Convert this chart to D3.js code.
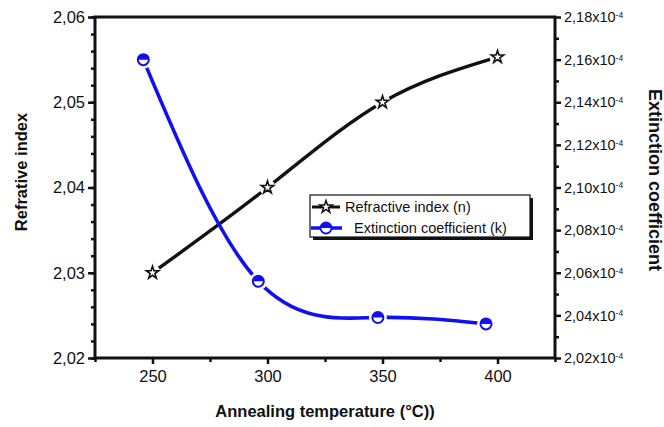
<!DOCTYPE html>
<html>
<head>
<meta charset="utf-8">
<script src="https://cdn.jsdelivr.net/npm/d3@7"></script>
<style>
  body { margin: 0; background: #fff; }
  text { font-family: "Liberation Sans", Arial, sans-serif; fill: #111; }
</style>
</head>
<body>
<script>
let width = 664
let height = 427

// data
const tempN = [250, 300, 350, 400]
const refIndex = [2.03, 2.04, 2.05, 2.0553]
const tempK = [246, 296, 348, 395]
const extCoef = [2.160, 2.056, 2.039, 2.036]   // x10^-4

const xTicks = [250, 300, 350, 400]
const xMinor = [225, 275, 325, 375, 425]
const leftTicks = [2.02, 2.03, 2.04, 2.05, 2.06]
const rightTicks = [2.02, 2.04, 2.06, 2.08, 2.10, 2.12, 2.14, 2.16, 2.18]

const pLeft = 95, pRight = 555, pTop = 17, pBottom = 358

const svg = d3.select("body")
    .append('svg')
    .attr('width', width)
    .attr('height', height)

const x = d3.scaleLinear().domain([225, 425]).range([pLeft, pRight])
const yL = d3.scaleLinear().domain([2.02, 2.06]).range([pBottom, pTop])
const yR = d3.scaleLinear().domain([2.02, 2.18]).range([pBottom, pTop])

// curves
const nPts = tempN.map((t, i) => [t, refIndex[i]])
const kPts = tempK.map((t, i) => [t, extCoef[i]])

const lineN = d3.line().x(d => x(d[0])).y(d => yL(d[1])).curve(d3.curveNatural)
const lineK = d3.line().x(d => x(d[0])).y(d => yR(d[1])).curve(d3.curveNatural)

svg.append('path')
    .attr('d', lineN(nPts))
    .attr('fill', 'none')
    .attr('stroke', '#111')
    .attr('stroke-width', 3.4)

svg.append('path')
    .attr('d', lineK(kPts))
    .attr('fill', 'none')
    .attr('stroke', '#1010f0')
    .attr('stroke-width', 3.6)

const star = d3.symbol().type(d3.symbolStar).size(48)

function starMark(g, cx, cy) {
    g.append('circle').attr('cx', cx).attr('cy', cy).attr('r', 8).attr('fill', '#fff')
    g.append('path')
        .attr('d', star())
        .attr('transform', `translate(${cx},${cy})`)
        .attr('fill', '#fff')
        .attr('stroke', '#111')
        .attr('stroke-width', 1.6)
}

function halfCircle(g, cx, cy, halo) {
    if (halo) g.append('circle').attr('cx', cx).attr('cy', cy).attr('r', 9).attr('fill', '#fff')
    const r = 5.5
    g.append('circle').attr('cx', cx).attr('cy', cy).attr('r', r)
        .attr('fill', '#fff').attr('stroke', '#1010f0').attr('stroke-width', 2)
    g.append('path')
        .attr('d', `M${cx - r},${cy} A${r},${r} 0 0 1 ${cx + r},${cy} Z`)
        .attr('fill', '#1010f0')
}

const marks = svg.append('g')
nPts.forEach(d => starMark(marks, x(d[0]), yL(d[1])))
kPts.forEach(d => halfCircle(marks, x(d[0]), yR(d[1]), true))

// frame
svg.append('rect')
    .attr('x', pLeft).attr('y', pTop)
    .attr('width', pRight - pLeft).attr('height', pBottom - pTop)
    .attr('fill', 'none')
    .attr('stroke', '#111')
    .attr('stroke-width', 3)

// bottom axis
const gx = svg.append('g').attr('transform', `translate(0,${pBottom})`)
gx.call(d3.axisBottom(x).tickValues(xTicks).tickSize(6).tickPadding(6).tickFormat(d3.format('d')))
gx.append('g').call(d3.axisBottom(x).tickValues(xMinor).tickSize(4).tickFormat(''))
gx.selectAll('.domain').remove()
gx.selectAll('line').attr('stroke', '#111').attr('stroke-width', 2.5)
gx.selectAll('text').style('font-size', '16.5px').attr('fill', '#111')

// left axis
const leftMinor = d3.range(2.02, 2.0601, 0.002)
const gl = svg.append('g').attr('transform', `translate(${pLeft},0)`)
gl.call(d3.axisLeft(yL).tickValues(leftTicks).tickSize(7).tickPadding(3)
    .tickFormat(d => d3.format('.2f')(d).replace('.', ',')))
gl.append('g').call(d3.axisLeft(yL).tickValues(leftMinor).tickSize(4).tickFormat(''))
gl.selectAll('.domain').remove()
gl.selectAll('line').attr('stroke', '#111').attr('stroke-width', 2.5)
gl.selectAll('text').style('font-size', '16.5px').attr('fill', '#111')

// right axis
const rightMinor = d3.range(2.03, 2.18, 0.02)
const gr = svg.append('g').attr('transform', `translate(${pRight},0)`)
gr.call(d3.axisRight(yR).tickValues(rightTicks).tickSize(6).tickPadding(3).tickFormat(''))
gr.append('g').call(d3.axisRight(yR).tickValues(rightMinor).tickSize(4).tickFormat(''))
gr.selectAll('.domain').remove()
gr.selectAll('line').attr('stroke', '#111').attr('stroke-width', 2.5)
gr.selectAll('.tick').filter(d => rightTicks.includes(d)).select('text')
    .style('font-size', '14.5px')
    .attr('fill', '#111')
    .each(function(d) {
        const t = d3.select(this)
        t.append('tspan').text(d3.format('.2f')(d).replace('.', ',') + 'x10')
        t.append('tspan').attr('dy', '-0.5em').style('font-size', '8.5px').text('-4')
    })

// axis titles
svg.append('text')
    .attr('transform', 'translate(27,172) rotate(-90)')
    .attr('text-anchor', 'middle')
    .style('font-size', '16.5px')
    .style('font-weight', 'bold')
    .text('Refrative index')

svg.append('text')
    .attr('x', 325).attr('y', 417)
    .attr('text-anchor', 'middle')
    .style('font-size', '16.5px')
    .style('font-weight', 'bold')
    .text('Annealing temperature (°C))')

svg.append('text')
    .attr('transform', 'translate(649,180) rotate(90)')
    .attr('text-anchor', 'middle')
    .style('font-size', '18px')
    .style('font-weight', 'bold')
    .text('Extinction coefficient')

// legend
const lg = svg.append('g')
lg.append('rect').attr('x', 313).attr('y', 198).attr('width', 220).attr('height', 42).attr('fill', '#111')
lg.append('rect').attr('x', 310).attr('y', 195).attr('width', 220).attr('height', 42)
    .attr('fill', '#fff').attr('stroke', '#111').attr('stroke-width', 1.2)

lg.append('line').attr('x1', 312).attr('x2', 340).attr('y1', 207).attr('y2', 207)
    .attr('stroke', '#111').attr('stroke-width', 3)
lg.append('path').attr('d', star()).attr('transform', 'translate(326,207)')
    .attr('fill', '#fff').attr('stroke', '#111').attr('stroke-width', 1.5)
lg.append('text').attr('x', 345).attr('y', 212).style('font-size', '14.5px').text('Refractive index (n)')

lg.append('line').attr('x1', 311).attr('x2', 342).attr('y1', 228).attr('y2', 228)
    .attr('stroke', '#1010f0').attr('stroke-width', 3.5)
halfCircle(lg, 326, 228, false)
lg.append('text').attr('x', 354).attr('y', 233).style('font-size', '14.5px').text('Extinction coefficient (k)')
</script>
</body>
</html>
